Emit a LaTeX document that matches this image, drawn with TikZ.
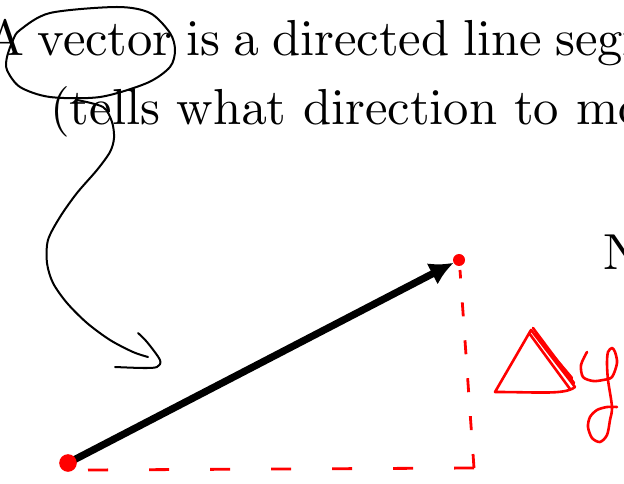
\documentclass[tikz,border=0pt]{standalone}
\usetikzlibrary{arrows.meta}
\font\slidefont=cmr10 at 36pt

\begin{document}
\begin{tikzpicture}[
            x=0.025cm, y=-0.025cm,
            txt/.style={anchor=base west, inner sep=0pt, font=\slidefont},
            pen/.style={line width=0.05cm, line cap=round, line join=round},
            redpen/.style={pen, red, line width=0.065cm},
            dashline/.style={red, line width=0.07cm, dash pattern=on 0.5cm off 1.025cm},
            vecarrow/.style={-{Latex[length=0.6cm,width=0.6cm]}, line width=0.18cm, shorten >=0.15cm}
        ]
            \useasboundingbox (0,0) rectangle (624,484);
            \clip (0,0) rectangle (624,484);

            % --- TEXTO ---
            \node[txt] (line1) at (-14,56) {\spaceskip=9.6pt\relax A vector is a directed line segment};
            \node[txt] (line2) at (50,125) {(tells what direction to move)};
            \node[txt] (nlabel) at (603,270) {N};

            % --- CIRCULO E SETA A MAO ---
            \draw[pen] plot[smooth cycle] coordinates {(20,30) (50,13) (117,7) (150,13) (170,33) (175,50) (170,67) (147,83) (100,97) (50,97) (20,87) (7,70) (7,57) (13,40)};
            \draw[pen] plot[smooth] coordinates {(77,100) (103,107) (112,122) (114,138) (110,152) (97,170) (77,193) (60,217) (48,240) (47,263) (53,283) (67,303) (87,323) (110,340) (133,352) (148,357)};
            \draw[pen] plot[smooth] coordinates {(138,333) (147,342) (160,360) (157,367) (143,368) (115,367)};

            % --- VETOR ---
            \coordinate (tail) at (68,463);
            \coordinate (head) at (459,260);
            \coordinate (corner) at (474,468);
            \draw[vecarrow] (tail) -- (head);
            \fill[red] (tail) circle (0.22cm);
            \fill[red] (head) circle (0.15cm);

            % --- TRACEJADO ---
            \draw[dashline] ([shift={(20,7)}]tail) -- (corner);
            \draw[dashline, dash pattern=on 0.35cm off 0.6cm] (corner) -- ([shift={(1,10)}]head);

            % --- DELTA Y ---
            \draw[redpen] (575,387) .. controls (565,395) and (540,392) .. (495,392) -- (531,330) -- (575,387);
            \draw[redpen] (533,328) -- (574,383);
            \draw[redpen] (529,333) -- (570,389);
            \draw[redpen] (535,334) -- (572,378);
            \draw[redpen] plot[smooth] coordinates {(587,352) (581,365) (583,377) (593,381) (603,380) (612,377) (617,363) (615,352) (612,348) (608,352) (607,363) (608,380) (612,407) (610,420) (607,435) (600,442) (592,438) (588,427) (590,417) (597,410) (607,407) (617,407)};

        \end{tikzpicture}
\end{document}
